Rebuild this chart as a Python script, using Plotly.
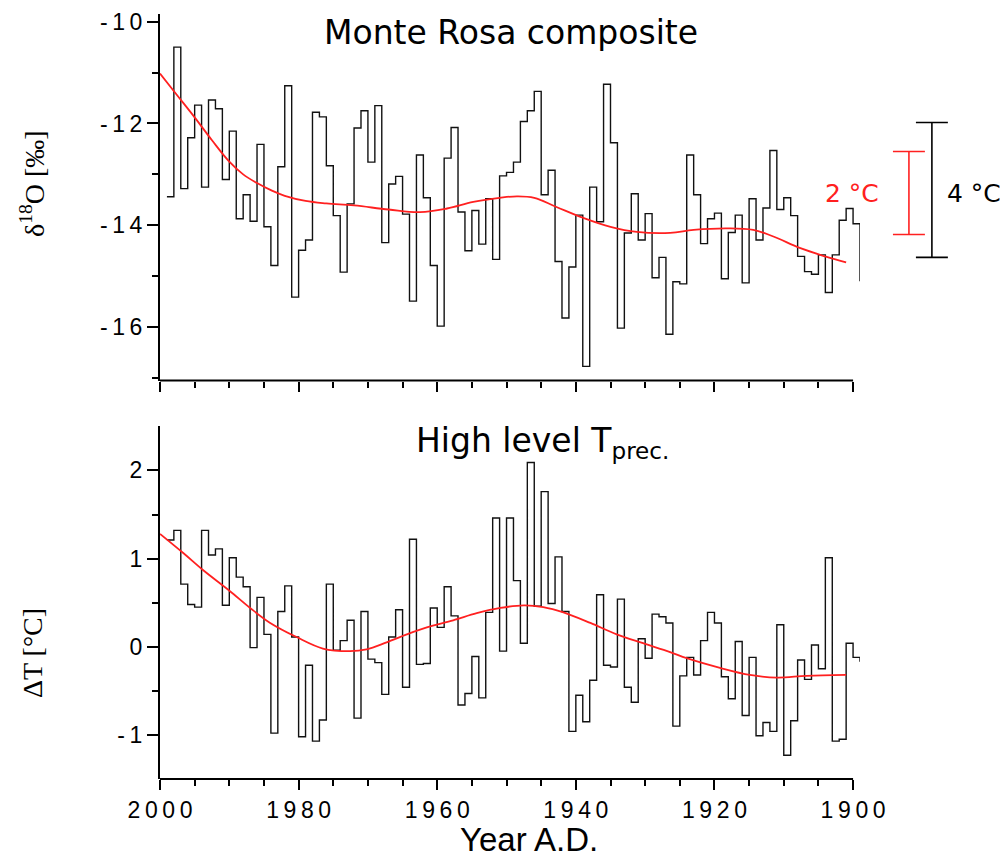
import plotly.graph_objects as go

# Annual values, listed from 1999 back to 1900
years = list(range(1999, 1899, -1))

d18o = [
    -13.44, -10.50, -13.28, -12.28, -11.64, -13.25, -11.54, -11.71, -13.10, -12.15,
    -13.87, -13.40, -13.92, -12.41, -14.03, -14.79, -12.85, -11.26, -15.41, -14.49,
    -14.29, -11.78, -11.87, -12.83, -13.81, -14.92, -13.58, -12.09, -11.75, -12.76,
    -11.65, -14.34, -13.19, -13.04, -13.78, -15.49, -12.62, -13.46, -14.79, -15.98,
    -12.68, -12.08, -13.74, -14.50, -13.71, -14.37, -13.48, -14.67, -13.03, -12.96,
    -12.76, -11.96, -11.75, -11.37, -13.40, -12.92, -14.71, -15.82, -14.82, -13.80,
    -16.77, -13.25, -13.93, -11.23, -12.38, -16.02, -14.15, -13.38, -14.29, -13.77,
    -15.03, -14.63, -16.14, -15.11, -15.15, -12.62, -13.40, -14.36, -13.87, -13.76,
    -15.05, -14.14, -13.80, -15.13, -13.48, -14.29, -13.66, -12.53, -13.69, -13.46,
    -13.81, -14.61, -14.91, -14.96, -14.58, -15.32, -14.58, -13.90, -13.67, -13.97,
]
d18o_end = -15.10

delta_t = [
    1.21, 1.32, 0.71, 0.48, 0.45, 1.32, 1.04, 1.11, 0.47, 1.01,
    0.79, 0.68, -0.01, 0.56, 0.14, -0.98, 0.40, 0.69, 0.11, -1.02,
    -0.21, -1.07, -0.83, 0.71, -0.04, 0.07, 0.30, -0.81, 0.40, -0.14,
    -0.18, -0.54, 0.11, 0.42, -0.46, 1.22, -0.20, -0.19, 0.44, 0.22,
    0.68, 0.35, -0.66, -0.53, -0.11, -0.58, 0.39, 1.46, -0.05, 1.46,
    0.75, 0.04, 2.09, 0.46, 1.76, 0.49, 1.02, 0.40, -0.96, -0.55,
    -0.85, -0.38, 0.59, -0.21, -0.23, 0.54, -0.46, -0.63, 0.09, -0.13,
    0.37, 0.34, 0.27, -0.90, -0.33, -0.12, -0.32, 0.07, 0.39, 0.27,
    -0.34, -0.59, 0.06, -0.78, -0.12, -1.01, -0.86, -0.96, 0.25, -1.23,
    -0.84, -0.15, -0.37, 0.02, -0.25, 1.01, -1.07, -1.05, 0.04, -0.12,
]
delta_t_end = -0.17

# Smoothed trends
smooth_years_top = [2000, 1997.5, 1995, 1992.5, 1990, 1988, 1986, 1984, 1982, 1979,
                    1976, 1972, 1967, 1962.5, 1958.6, 1954.8, 1951, 1948.5, 1946,
                    1942.8, 1939, 1935, 1931.2, 1926.4, 1923, 1918.2, 1914.4, 1911.5,
                    1907.6, 1903.8, 1901]
smooth_top = [-11.02, -11.45, -11.88, -12.33, -12.75, -13.00, -13.17, -13.31, -13.42, -13.52,
              -13.57, -13.61, -13.69, -13.74, -13.67, -13.54, -13.46, -13.43, -13.46,
              -13.64, -13.85, -14.03, -14.13, -14.15, -14.09, -14.06, -14.09, -14.22,
              -14.45, -14.62, -14.73]

smooth_years_bot = [2000, 1996.6, 1993.8, 1989.9, 1987, 1984.1, 1980.3, 1976.5, 1972.6,
                    1970.2, 1967.3, 1964.4, 1961.5, 1957.7, 1954.3, 1950.9, 1947.5,
                    1944.7, 1941.8, 1937.9, 1934.1, 1930.3, 1926.4, 1924, 1919.2,
                    1914.9, 1911, 1906.7, 1901]
smooth_bot = [1.28, 1.06, 0.87, 0.63, 0.44, 0.27, 0.11, -0.02, -0.05,
              -0.03, 0.05, 0.14, 0.22, 0.30, 0.38, 0.44, 0.47,
              0.45, 0.39, 0.27, 0.14, 0.04, -0.06, -0.13, -0.24,
              -0.32, -0.35, -0.33, -0.32]

x_tick_years = [2000, 1980, 1960, 1940, 1920, 1900]
top_ticks = [-10, -12, -14, -16]
bot_ticks = [-1, 0, 1, 2]

# Scale bars (temperature equivalents in per mil)
bar_2c = (-12.55, -14.18)
bar_4c = (-11.98, -14.63)

SP = "\u2009"


def spaced(s):
    return SP.join(s)


step_x = years + [years[-1] - 1]
step_top = d18o + [d18o_end]
step_bot = delta_t + [delta_t_end]

fig = go.Figure()
fig.add_trace(go.Scatter(x=step_x, y=step_top, mode="lines",
                         line=dict(color="#111111", width=1.4, shape="hv"),
                         xaxis="x", yaxis="y", hoverinfo="skip"))
fig.add_trace(go.Scatter(x=smooth_years_top, y=smooth_top, mode="lines",
                         line=dict(color="#ff2020", width=1.8, shape="spline", smoothing=1.1),
                         xaxis="x", yaxis="y", hoverinfo="skip"))
fig.add_trace(go.Scatter(x=step_x, y=step_bot, mode="lines",
                         line=dict(color="#111111", width=1.4, shape="hv"),
                         xaxis="x2", yaxis="y2", hoverinfo="skip"))
fig.add_trace(go.Scatter(x=smooth_years_bot, y=smooth_bot, mode="lines",
                         line=dict(color="#ff2020", width=1.8, shape="spline"),
                         xaxis="x2", yaxis="y2", hoverinfo="skip"))

tick_font = dict(family="Liberation Sans, Arial, sans-serif", size=23, color="black")

xaxis_common = dict(
    range=[2000, 1899], domain=[0, 1], showline=False, showgrid=False, zeroline=False,
    ticks="outside", ticklen=10, tickwidth=2, tickcolor="black",
    tickmode="array", tickvals=x_tick_years,
    minor=dict(tickmode="linear", tick0=2000, dtick=5, ticks="outside",
               ticklen=6, tickwidth=2, tickcolor="black", showgrid=False),
)

fig.update_layout(
    width=1005, height=861,
    margin=dict(l=160, r=145, t=9, b=82),
    paper_bgcolor="white", plot_bgcolor="white",
    showlegend=False,
    xaxis=dict(**xaxis_common, anchor="y", showticklabels=False),
    xaxis2=dict(**xaxis_common, anchor="y2", showticklabels=True,
                ticktext=[spaced(str(v)) for v in x_tick_years],
                tickfont=tick_font),
    yaxis=dict(
        domain=[0.5208, 1], range=[-17.05, -9.85], anchor="x",
        showline=True, linewidth=2, linecolor="black", showgrid=False, zeroline=False,
        ticks="outside", ticklen=11, tickwidth=2, tickcolor="black",
        tickmode="array", tickvals=top_ticks,
        ticktext=[spaced(str(v)) for v in top_ticks], tickfont=tick_font,
        minor=dict(tickmode="array", tickvals=[-11, -13, -15, -17], ticks="outside",
                   ticklen=6, tickwidth=2, tickcolor="black", showgrid=False),
    ),
    yaxis2=dict(
        domain=[0, 0.461], range=[-1.5, 2.5], anchor="x2",
        showline=True, linewidth=2, linecolor="black", showgrid=False, zeroline=False,
        ticks="outside", ticklen=11, tickwidth=2, tickcolor="black",
        tickmode="array", tickvals=bot_ticks,
        ticktext=[spaced(str(v)) for v in bot_ticks], tickfont=tick_font,
        minor=dict(tickmode="array", tickvals=[-0.5, 0.5, 1.5], ticks="outside",
                   ticklen=6, tickwidth=2, tickcolor="black", showgrid=False),
    ),
)

shapes = []
# bottom axis lines, ending at 1900
for xr, yr in (("x", "y domain"), ("x2", "y2 domain")):
    shapes.append(dict(type="line", xref=xr, yref=yr, x0=2000, x1=1900, y0=0, y1=0,
                       line=dict(color="black", width=2)))


def px_to_paper(px):
    return (px - 160) / 701.0


def scale_bar(xc, half_cap, y0, y1, color):
    out = [dict(type="line", xref="paper", yref="y", x0=px_to_paper(xc), x1=px_to_paper(xc),
                y0=y0, y1=y1, line=dict(color=color, width=1.6))]
    for yv in (y0, y1):
        out.append(dict(type="line", xref="paper", yref="y",
                        x0=px_to_paper(xc - half_cap), x1=px_to_paper(xc + half_cap),
                        y0=yv, y1=yv, line=dict(color=color, width=1.6)))
    return out


shapes += scale_bar(910, 16, bar_2c[0], bar_2c[1], "#ff2020")
shapes += scale_bar(933, 16, bar_4c[0], bar_4c[1], "black")
fig.update_layout(shapes=shapes)

title_font = dict(family="DejaVu Sans, Verdana, sans-serif", size=33, color="black")
label_font = dict(family="Liberation Serif, Times New Roman, serif", size=28, color="black")

annotations = [
    dict(text="Monte Rosa composite", xref="paper", yref="paper",
         x=px_to_paper(512), y=(779 - 28) / 770, xanchor="center", yanchor="middle",
         showarrow=False, font=title_font),
    dict(text="High level T<sub>prec.</sub>", xref="paper", yref="paper",
         x=px_to_paper(543), y=(779 - 440) / 770, xanchor="center", yanchor="middle",
         showarrow=False, font=title_font),
    dict(text="δ<sup>18</sup>O [‰]", xref="paper", yref="paper",
         x=px_to_paper(33), y=(779 - 180) / 770, xanchor="center", yanchor="middle",
         textangle=-90, showarrow=False, font=label_font),
    dict(text="ΔT [°C]", xref="paper", yref="paper",
         x=px_to_paper(33), y=(779 - 652) / 770, xanchor="center", yanchor="middle",
         textangle=-90, showarrow=False, font=label_font),
    dict(text="Year A.D.", xref="paper", yref="paper",
         x=px_to_paper(530), y=(779 - 840) / 770, xanchor="center", yanchor="middle",
         showarrow=False, font=dict(family="Liberation Sans, Arial, sans-serif", size=33,
                                    color="black")),
    dict(text="2 °C", xref="paper", yref="y", x=px_to_paper(853), y=-13.38,
         xanchor="center", yanchor="middle", showarrow=False,
         font=dict(family="DejaVu Sans, Verdana, sans-serif", size=25, color="#ff2020")),
    dict(text="4 °C", xref="paper", yref="y", x=px_to_paper(975), y=-13.38,
         xanchor="center", yanchor="middle", showarrow=False,
         font=dict(family="DejaVu Sans, Verdana, sans-serif", size=25, color="black")),
]
fig.update_layout(annotations=annotations)

fig.write_html("out.html")
